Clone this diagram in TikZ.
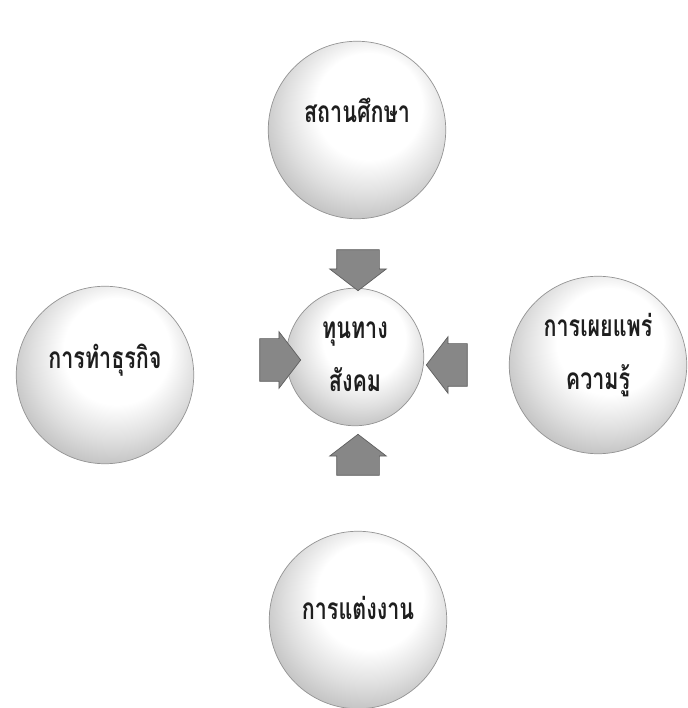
\documentclass[tikz,border=0pt]{standalone}
\usepackage{fontspec}
\newfontfamily\thaifont[Script=Thai,FakeStretch=0.72]{Loma}
\usepackage{tikz}
\usetikzlibrary{shapes,positioning}
\definecolor{arrowgray}{RGB}{135,135,135}
\definecolor{rimgray}{RGB}{95,95,95}
\definecolor{inkgray}{RGB}{30,30,30}
\pgfdeclareradialshading{sphere}{\pgfpoint{5bp}{10bp}}{color(0bp)=(white); color(15bp)=(white); color(23bp)=(gray!25); color(30bp)=(gray!50); color(35bp)=(gray!85); color(45bp)=(gray!90)}

\begin{document}
\begin{tikzpicture}[
  ball/.style={circle,draw=gray!85,thin,shading=sphere,minimum size=3.55cm,inner sep=0pt},
  hub/.style={ball,minimum size=2.75cm},
  txt/.style={font=\thaifont\bfseries\fontsize{17}{30}\selectfont,text=inkgray,align=center},
  blockarr/.style={single arrow,draw=rimgray,fill=arrowgray,minimum height=0.82cm,minimum width=1.12cm,inner xsep=0pt,inner ysep=0.42cm,single arrow head extend=0.14cm,single arrow tip angle=105}
]
  \useasboundingbox[fill=white] (0,0) rectangle (13.76,14.16);
  \node[ball] (school) at (7.14,11.56) {};
  \node[ball] (business) at (2.10,6.66) {};
  \node[hub] (capital) at (7.10,7.02) {};
  \node[ball] (spread) at (11.96,6.86) {};
  \node[ball] (wedding) at (7.16,1.76) {};
  % labels
  \node[txt] (school-t) at ([yshift=0.4cm]school.center) {สถานศึกษา};
  \node[txt] (business-t) at ([yshift=0.3cm]business.center) {การทำธุรกิจ};
  \node[txt] (capital-t) at (capital.center) {ทุนทาง\\สังคม};
  \node[txt] (spread-t) at ([yshift=0.2cm]spread.center) {การเผยแพร่\\ความรู้};
  \node[txt] (wedding-t) at ([yshift=0.25cm]wedding.center) {การแต่งงาน};
  % arrows into the hub
  \node[blockarr,rotate=-90] (arr-n) at (7.16,8.92) {};
  \node[blockarr] (arr-w) at (5.44,6.96) {};
  \node[blockarr,rotate=180] (arr-e) at (9.10,6.86) {};
  \node[blockarr,rotate=90] (arr-s) at (7.16,4.90) {};
\end{tikzpicture}
\end{document}
